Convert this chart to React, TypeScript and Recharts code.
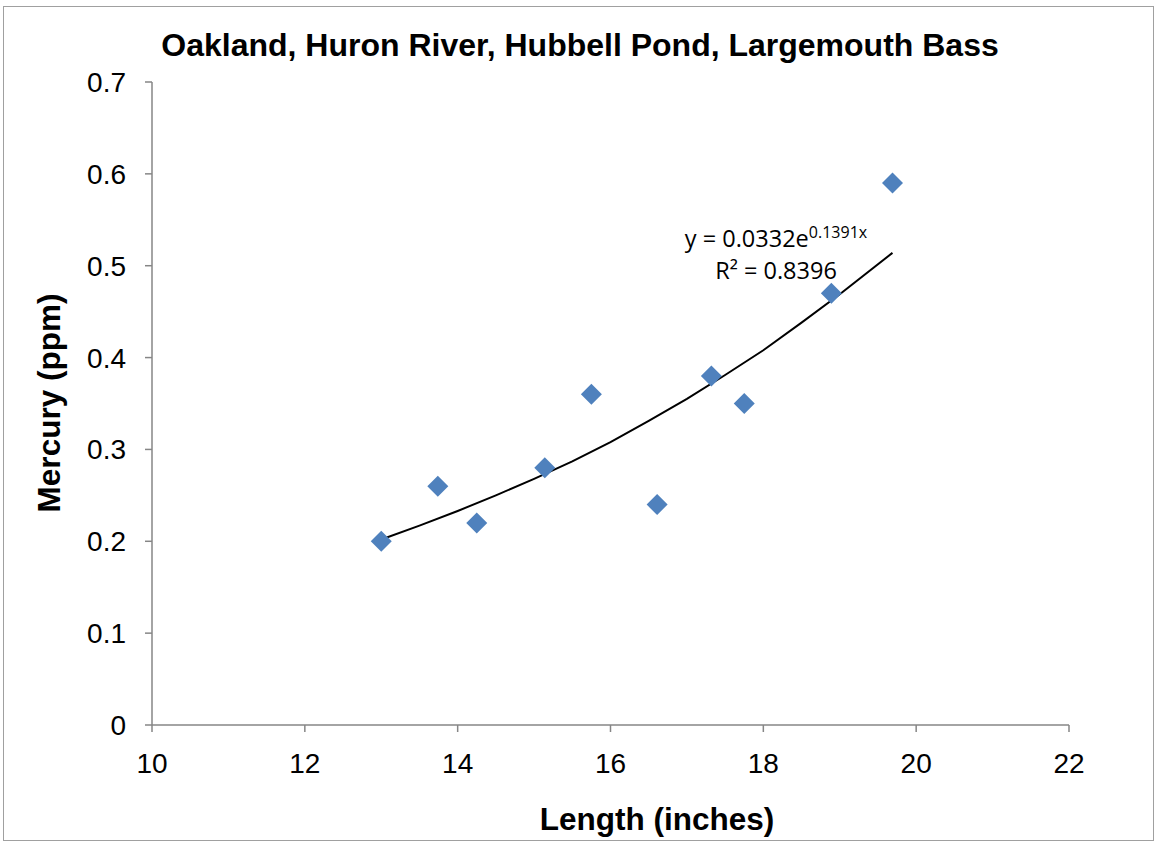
import React from 'react';
import { ComposedChart, Scatter, XAxis, YAxis, Customized } from 'recharts';

// fish length (inches) vs mercury (ppm)
const lengths = [13.0, 13.74, 14.25, 15.14, 15.75, 16.61, 17.32, 17.75, 18.89, 19.69];
const mercury = [0.2, 0.26, 0.22, 0.28, 0.36, 0.24, 0.38, 0.35, 0.47, 0.59];

// exponential trendline
const trendX = [13, 13.5, 14, 14.5, 15, 15.5, 16, 16.5, 17, 17.5, 18, 18.5, 19, 19.69];
const trendY = [0.202, 0.217, 0.233, 0.25, 0.268, 0.287, 0.308, 0.331, 0.355, 0.381, 0.408, 0.438, 0.469, 0.514];

const xTicks = [10, 12, 14, 16, 18, 20, 22];
const yTicks = [0, 0.1, 0.2, 0.3, 0.4, 0.5, 0.6, 0.7];

const TITLE = 'Oakland, Huron River, Hubbell Pond, Largemouth Bass';
const X_TITLE = 'Length (inches)';
const Y_TITLE = 'Mercury (ppm)';

const points = lengths.map((x, i) => ({ x, y: mercury[i] }));
const trend = trendX.map((x, i) => ({ x, y: trendY[i] }));

const AXIS = '#868686';
const FONT = '"Liberation Sans", Arial, sans-serif';
const EQ_FONT = '"Open Sans", sans-serif';

const Diamond = (props: Record<string, unknown>) => {
  const cx = props.cx as number;
  const cy = props.cy as number;
  const r = 10.5;
  return (
    <polygon
      points={`${cx},${cy - r} ${cx + r},${cy} ${cx},${cy + r} ${cx - r},${cy}`}
      fill="#4f81bd"
    />
  );
};

const Texts = () => (
  <g>
    <text x={580} y={56} textAnchor="middle" fontFamily={FONT} fontWeight="bold" fontSize={32} fill="#000">
      {TITLE}
    </text>
    <text x={657} y={830} textAnchor="middle" fontFamily={FONT} fontWeight="bold" fontSize={31.5} fill="#000">
      {X_TITLE}
    </text>
    <text
      x={0}
      y={0}
      transform="translate(60,403) rotate(-90)"
      textAnchor="middle"
      fontFamily={FONT}
      fontWeight="bold"
      fontSize={31.5}
      fill="#000"
    >
      {Y_TITLE}
    </text>
    <text x={776} y={247} textAnchor="middle" fontFamily={EQ_FONT} fontSize={23.5} fill="#000">
      y = 0.0332e<tspan fontSize={16} dy={-9}>0.1391x</tspan>
    </text>
    <text x={776} y={279} textAnchor="middle" fontFamily={EQ_FONT} fontSize={23.5} fill="#000">
      R² = 0.8396
    </text>
  </g>
);

export default function App() {
  return (
    <div style={{ position: 'absolute', left: 0, top: 0, width: 1156, height: 842, background: '#fff' }}>
      <div
        style={{
          position: 'absolute',
          left: 3,
          top: 6,
          width: 1149,
          height: 833,
          border: '1.5px solid #a0a0a0',
        }}
      />
      <div style={{ position: 'absolute', left: 0, top: 0 }}>
        <ComposedChart width={1156} height={842} margin={{ top: 82, right: 87, bottom: 57, left: 0 }}>
          <XAxis
            type="number"
            dataKey="x"
            domain={[10, 22]}
            ticks={xTicks}
            allowDataOverflow
            height={60}
            stroke={AXIS}
            strokeWidth={1.5}
            tickSize={7}
            tickMargin={21}
            tick={{ fill: '#000', fontSize: 28, fontFamily: FONT }}
          />
          <YAxis
            type="number"
            dataKey="y"
            domain={[0, 0.7]}
            ticks={yTicks}
            allowDataOverflow
            width={152}
            stroke={AXIS}
            strokeWidth={1.5}
            tickSize={7}
            tickMargin={19}
            tickFormatter={(v: number) => String(v)}
            tick={{ fill: '#000', fontSize: 28, fontFamily: FONT }}
          />
          <Scatter
            data={trend}
            line={{ stroke: '#000', strokeWidth: 2 }}
            lineType="joint"
            shape={() => <g />}
            isAnimationActive={false}
          />
          <Scatter data={points} shape={Diamond} isAnimationActive={false} />
          <Customized component={Texts} />
        </ComposedChart>
      </div>
    </div>
  );
}
